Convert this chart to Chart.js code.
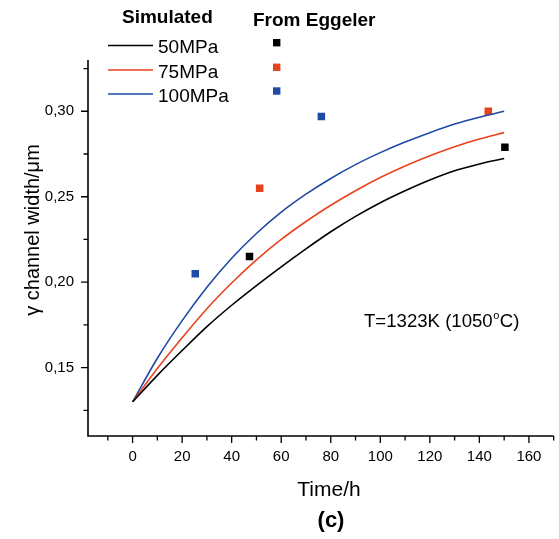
<!DOCTYPE html>
<html>
<head>
<meta charset="utf-8">
<title>Gamma channel width</title>
<script src="https://cdn.jsdelivr.net/npm/chart.js@4.4.0/dist/chart.umd.min.js"></script>
<style>
    html, body { margin: 0; padding: 0; background: #ffffff; }
    canvas { display: block; }
</style>
</head>
<body>
<canvas id="widthChart" width="559" height="539"></canvas>
<script>

// ======================================================
// DATA
// ======================================================

const timeHours = [0, 10, 20, 30, 40, 50, 60, 70, 80, 90, 100, 110, 120, 130, 140, 150];

const sim50 = [0.130, 0.1455, 0.1600, 0.1740, 0.1865, 0.1980, 0.2090, 0.2195, 0.2295, 0.2385, 0.2465, 0.2535, 0.2598, 0.2652, 0.2692, 0.2724];
const sim75 = [0.130, 0.1495, 0.1675, 0.1845, 0.1995, 0.2130, 0.2250, 0.2355, 0.2450, 0.2535, 0.2612, 0.2680, 0.2740, 0.2793, 0.2838, 0.2875];
const sim100 = [0.130, 0.1555, 0.1775, 0.1970, 0.2140, 0.2285, 0.2410, 0.2515, 0.2607, 0.2688, 0.2758, 0.2820, 0.2875, 0.2925, 0.2965, 0.3000];

const eggelerTime50 = [47.2, 150.3];
const eggeler50 = [0.215, 0.279];
const eggelerTime75 = [51.3, 143.6];
const eggeler75 = [0.255, 0.300];
const eggelerTime100 = [25.3, 76.2];
const eggeler100 = [0.205, 0.297];

const seriesNames = ["50MPa", "75MPa", "100MPa"];
const seriesColors = ["#000000", "#e8421e", "#1f4aa6"];

const FONT = "'Liberation Sans', Arial, sans-serif";

function toPoints(xs, ys) {
    return xs.map(function (x, i) { return { x: x, y: ys[i] }; });
}

function isMultiple(v, step) {
    const r = v / step;
    return Math.abs(r - Math.round(r)) < 1e-6;
}

// ======================================================
// AXES + TEXT PLUGIN
// ======================================================

const decorations = {

    id: "decorations",

    afterDraw: function (chart) {

        const ctx = chart.ctx;
        const area = chart.chartArea;
        const xs = chart.scales.x;
        const ys = chart.scales.y;

        ctx.save();

        // axis lines
        ctx.strokeStyle = "#000000";
        ctx.lineWidth = 1.6;
        ctx.beginPath();
        ctx.moveTo(area.left, area.top);
        ctx.lineTo(area.left, area.bottom);
        ctx.lineTo(area.right, area.bottom);
        ctx.stroke();

        // ticks, outward, long for labelled ones
        ctx.lineWidth = 1.3;
        ctx.beginPath();
        xs.ticks.forEach(function (t) {
            const px = xs.getPixelForValue(t.value);
            const len = t.label !== "" ? 7 : 4.5;
            ctx.moveTo(px, area.bottom);
            ctx.lineTo(px, area.bottom + len);
        });
        ys.ticks.forEach(function (t) {
            const py = ys.getPixelForValue(t.value);
            const len = t.label !== "" ? 7 : 4.5;
            ctx.moveTo(area.left, py);
            ctx.lineTo(area.left - len, py);
        });
        ctx.stroke();

        ctx.fillStyle = "#000000";

        // legend headers
        ctx.textBaseline = "alphabetic";
        ctx.textAlign = "left";
        ctx.font = "bold 19px " + FONT;
        ctx.fillText("Simulated", 122, 23);
        ctx.fillText("From Eggeler", 253, 26);

        // legend rows
        const rowY = [45.5, 70, 94];
        const squareY = [42.7, 67.3, 91];
        ctx.font = "19px " + FONT;
        seriesNames.forEach(function (name, i) {
            ctx.strokeStyle = seriesColors[i];
            ctx.lineWidth = 1.6;
            ctx.beginPath();
            ctx.moveTo(108, rowY[i]);
            ctx.lineTo(153, rowY[i]);
            ctx.stroke();
            ctx.fillStyle = "#000000";
            ctx.fillText(name, 158, rowY[i] + 7.5);
            ctx.fillStyle = seriesColors[i];
            ctx.fillRect(276.7 - 3.7, squareY[i] - 3.7, 7.4, 7.4);
        });

        // annotation
        ctx.fillStyle = "#000000";
        ctx.font = "18.6px " + FONT;
        let tx = 364;
        const base = 327;
        ctx.fillText("T=1323K (1050", tx, base);
        tx += ctx.measureText("T=1323K (1050").width;
        ctx.font = "11px " + FONT;
        ctx.fillText("o", tx + 0.5, base - 8);
        tx += ctx.measureText("o").width + 1;
        ctx.font = "18.6px " + FONT;
        ctx.fillText("C)", tx, base);

        // axis titles
        ctx.textAlign = "center";
        ctx.textBaseline = "middle";
        ctx.font = "21px " + FONT;
        ctx.fillText("Time/h", 329, 490);
        ctx.font = "bold 22px " + FONT;
        ctx.fillText("(c)", 331, 521);

        ctx.save();
        ctx.translate(33, 230);
        ctx.rotate(-Math.PI / 2);
        ctx.font = "20px " + FONT;
        ctx.fillText("\u03b3 channel width/\u03bcm", 0, 0);
        ctx.restore();

        ctx.restore();
    }
};

// ======================================================
// CHART
// ======================================================

const lineDatasets = [sim50, sim75, sim100].map(function (vals, i) {
    return {
        type: "line",
        label: seriesNames[i],
        data: toPoints(timeHours, vals),
        borderColor: seriesColors[i],
        backgroundColor: seriesColors[i],
        borderWidth: 1.6,
        pointRadius: 0,
        cubicInterpolationMode: "monotone",
        fill: false
    };
});

const pointDatasets = [
    [eggelerTime50, eggeler50],
    [eggelerTime75, eggeler75],
    [eggelerTime100, eggeler100]
].map(function (pair, i) {
    return {
        type: "scatter",
        label: "Eggeler " + seriesNames[i],
        data: toPoints(pair[0], pair[1]),
        backgroundColor: seriesColors[i],
        borderWidth: 0,
        pointStyle: "rect",
        pointRadius: 5.3
    };
});

new Chart(document.getElementById("widthChart"), {

    data: {
        datasets: lineDatasets.concat(pointDatasets)
    },

    options: {

        responsive: false,
        animation: false,
        devicePixelRatio: 1,

        layout: {
            padding: { left: 0, right: -4, top: 60, bottom: 0 }
        },

        plugins: {
            legend: { display: false },
            tooltip: { enabled: false }
        },

        scales: {

            x: {
                type: "linear",
                min: -18,
                max: 170,
                border: { display: false },
                grid: { display: false },
                ticks: {
                    stepSize: 10,
                    includeBounds: false,
                    autoSkip: false,
                    maxRotation: 0,
                    padding: 4,
                    color: "#000000",
                    font: { family: FONT, size: 15 },
                    callback: function (v) {
                        return isMultiple(v, 20) ? String(Math.round(v)) : "";
                    }
                },
                afterFit: function (scale) {
                    scale.height = 103;
                    scale.paddingLeft = 0;
                    scale.paddingRight = 0;
                }
            },

            y: {
                type: "linear",
                min: 0.11,
                max: 0.33,
                border: { display: false },
                grid: { display: false },
                ticks: {
                    stepSize: 0.025,
                    includeBounds: false,
                    autoSkip: false,
                    padding: 6,
                    color: "#000000",
                    font: { family: FONT, size: 15 },
                    callback: function (v) {
                        return isMultiple(v, 0.05) ? v.toFixed(2).replace(".", ",") : "";
                    }
                },
                afterFit: function (scale) {
                    scale.width = 88;
                    scale.paddingTop = 0;
                    scale.paddingBottom = 0;
                }
            }
        }
    },

    plugins: [decorations]
});

</script>
</body>
</html>
